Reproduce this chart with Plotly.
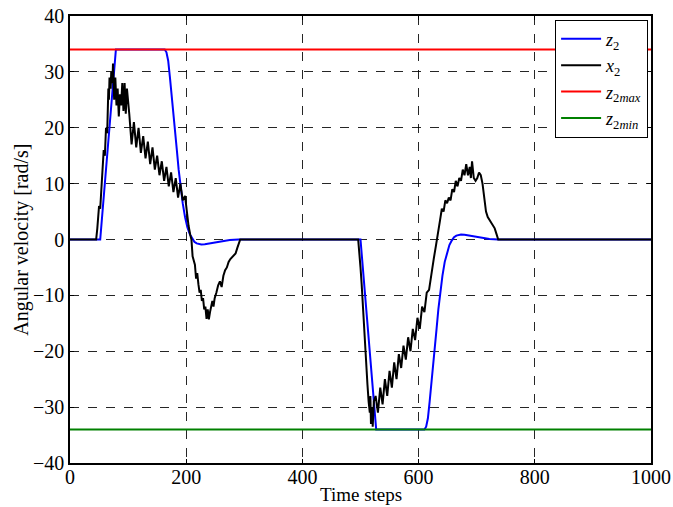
import plotly.graph_objects as go

# ---- data ----
z2_t = [0, 52, 79, 163, 166, 169, 172, 175, 178, 181, 184, 187, 190, 194, 198, 202, 206,
        210, 214, 218, 222, 226, 232, 240, 250, 262, 275, 290,
        500, 527, 610, 613, 616, 619, 622, 625, 628, 631, 634, 637, 641, 645, 649, 653,
        657, 661, 665, 669, 673, 679, 687, 697, 709, 722, 737, 1000]
z2_v = [0, 0, 34, 34, 33.5, 32, 29, 26, 23, 19.5, 15.9, 12.5, 9.5, 6.5, 4, 2.2, 1,
        0.2, -0.4, -0.7, -0.85, -0.9, -0.85, -0.7, -0.45, -0.25, -0.1, 0,
        0, -34, -34, -33.5, -32, -29, -26, -23, -19.5, -15.9, -12.5, -9.5, -6.5, -4, -2.2, -1,
        -0.2, 0.4, 0.7, 0.85, 0.9, 0.85, 0.7, 0.45, 0.25, 0.1, 0, 0]

x2_t = [0, 45, 47, 49, 50, 52, 54, 56, 58, 60, 62, 64, 66, 67, 68, 70, 71, 73, 74, 76, 78,
        80, 82, 84, 86, 88, 90, 92, 94, 96, 98,
        102, 106, 110, 114, 118, 122, 126, 130, 134, 138, 142, 146, 150, 154, 158, 162,
        166, 170, 174, 178, 182, 186, 190, 194, 198,
        201, 204, 207, 209, 211, 213, 215, 217, 219, 221, 223, 225, 227, 229,
        231, 233, 235, 237, 239, 241, 243, 245, 247, 249, 252, 255, 258, 261, 264, 267,
        270, 273, 276, 279, 282, 285, 288, 290, 293,
        496, 498, 500, 502, 504, 506, 508, 510, 512, 514, 516, 517, 518, 520, 521, 523,
        526, 530, 534, 538, 542, 546, 550, 554, 558, 562, 566, 570, 574, 578, 582, 586,
        590, 594, 598, 602, 606, 610, 614, 618, 622, 626, 630, 634, 637, 640, 643,
        646, 649, 652, 655, 658, 661, 664, 667, 670, 673, 676, 679, 682, 685, 688, 690,
        692, 695, 698, 701, 704, 707, 710, 713, 716, 719, 722, 725, 728, 731, 734, 737, 1000]
x2_v = [0, 0, 2, 5, 6, 5.5, 9, 14, 16, 15, 20, 19, 27, 25, 29, 27, 30, 28, 31.5, 25, 29,
        24, 27, 22, 26, 24, 28, 23, 28, 22.5, 27,
        22.5, 17, 21, 16.5, 20, 15.5, 18.5, 14.5, 17.5, 13.5, 16.5, 12.5, 15, 11.5, 14, 10.5,
        13, 9.5, 12, 8.5, 11, 7.5, 10, 7, 7.8,
        5, 2.5, 0.8, 0, -3, -4, -4.5, -7, -6, -8, -9.5, -9, -11, -10.5,
        -12.5, -12, -14.2, -12.5, -14.3, -13, -12, -11, -12, -10.5, -9.5, -8.2, -7.5, -8.5, -6.5, -5.5,
        -5, -4, -3.5, -3.2, -2.8, -2.5, -1.5, -0.8, 0,
        0, -2, -5, -8, -12, -16, -19, -23, -26, -29, -31, -28, -33, -30, -33.5, -29,
        -28, -31, -26.5, -29.5, -25, -28, -23.5, -26.5, -22, -25, -20.5, -23, -19, -21.5, -17.5, -20,
        -16, -18, -14, -16, -12, -13, -9.5, -9, -6, -3.5, -1, 2, 3.5, 5.5, 5,
        7, 6.5, 7.5, 7, 9, 8.5, 10.5, 9.5, 11, 10.5, 12.5, 11.5, 13.5, 11.5, 13, 11,
        14, 11, 10.5, 11, 12, 11.5, 10, 7, 5, 4, 3.5, 3, 2.5, 2, 1, 0, 0]

z2max_v = 34
z2min_v = -34
x_range = [0, 1000]
y_range = [-40, 40]
x_ticks = [0, 200, 400, 600, 800, 1000]
y_ticks = [-40, -30, -20, -10, 0, 10, 20, 30, 40]
x_title = "Time steps"
y_title = "Angular velocity [rad/s]"

FONT = "Liberation Serif"

fig = go.Figure()
fig.add_trace(go.Scatter(x=z2_t, y=z2_v, mode="lines", name="<i>z</i><sub>2</sub>",
                         line=dict(color="#0000ff", width=2)))
fig.add_trace(go.Scatter(x=x2_t, y=x2_v, mode="lines", name="<i>x</i><sub>2</sub>",
                         line=dict(color="#000000", width=2)))
fig.add_trace(go.Scatter(x=x_range, y=[z2max_v, z2max_v], mode="lines",
                         name="<i>z</i><sub>2<i>max</i></sub>",
                         line=dict(color="#ff0000", width=2)))
fig.add_trace(go.Scatter(x=x_range, y=[z2min_v, z2min_v], mode="lines",
                         name="<i>z</i><sub>2<i>min</i></sub>",
                         line=dict(color="#008000", width=2)))

axis_common = dict(showline=True, linecolor="black", linewidth=1.5, mirror="ticks",
                   ticks="inside", ticklen=4, tickcolor="black", automargin=False,
                   showgrid=True, gridcolor="rgba(0,0,0,0.85)", griddash="dash", gridwidth=1,
                   zeroline=False, tickfont=dict(family=FONT, size=20, color="black"))

fig.update_xaxes(range=x_range, tickvals=x_ticks, ticktext=[str(v) for v in x_ticks],
                 ticklabelstandoff=-5, **axis_common)
fig.update_yaxes(range=y_range, tickvals=y_ticks,
                 ticktext=[("\u2212" + str(-v)) if v < 0 else str(v) for v in y_ticks],
                 ticklabelstandoff=0, **axis_common)

fig.add_annotation(text=x_title, xref="paper", yref="paper", x=0.5, y=-0.071,
                   xanchor="center", yanchor="middle", showarrow=False,
                   font=dict(family=FONT, size=19, color="black"))
fig.add_annotation(text=y_title, xref="paper", yref="paper", x=-0.084, y=0.5,
                   xanchor="center", yanchor="middle", showarrow=False, textangle=-90,
                   font=dict(family=FONT, size=20, color="black"))

fig.update_layout(
    width=673, height=507,
    margin=dict(l=70, r=22, t=16, b=44),
    paper_bgcolor="white", plot_bgcolor="white",
    font=dict(family=FONT, color="black"),
    showlegend=True,
    legend=dict(x=0.995, y=0.992, xanchor="right", yanchor="top",
                bgcolor="white", bordercolor="black", borderwidth=1,
                font=dict(family=FONT, size=18, color="black"),
                itemwidth=40, tracegroupgap=0),
)

fig.write_html("out.html")
